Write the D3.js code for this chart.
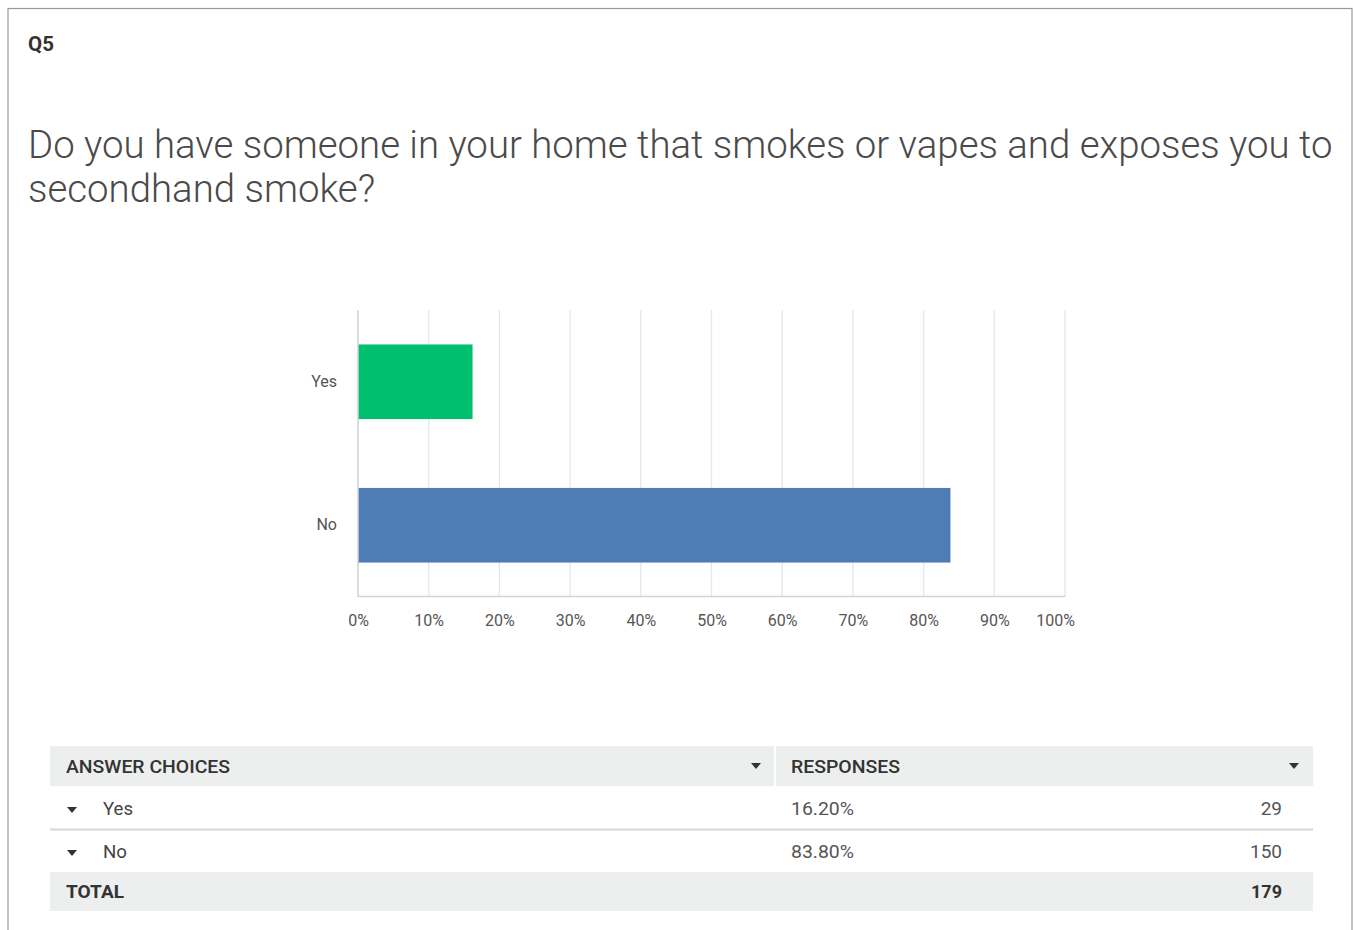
<!DOCTYPE html>
<html>
<head>
<meta charset="utf-8">
<script src="https://cdn.jsdelivr.net/npm/d3@7"></script>
<style>
  html, body { margin: 0; padding: 0; background: #fff; }
  svg { display: block; font-family: Roboto, "Open Sans", sans-serif; }
</style>
</head>
<body>
<svg id="chart" width="1353" height="930"></svg>
<script>
// Survey question data
const questionId = "Q5";
const questionLines = [
  "Do you have someone in your home that smokes or vapes and exposes you to",
  "secondhand smoke?"
];
const categories = ["Yes", "No"];
const percents = [16.20, 83.80];
const counts = [29, 150];
const totalCount = 179;
const tickValues = [0, 10, 20, 30, 40, 50, 60, 70, 80, 90, 100];
const barColors = ["#00bf6f", "#507cb6"];
const tableHeaders = ["ANSWER CHOICES", "RESPONSES"];

const svg = d3.select("#chart");

// Card border
svg.append("rect")
  .attr("x", 8).attr("y", 8.5).attr("width", 1344).attr("height", 940)
  .attr("fill", "none").attr("stroke", "#9a9a9a").attr("stroke-width", 1.2);

// Question number
svg.append("text")
  .attr("x", 28).attr("y", 51)
  .attr("font-size", 20.5).attr("font-weight", 700).attr("fill", "#333")
  .text(questionId);

// Question title, sized so the first line spans the card
const title = svg.append("g");
const lineEls = questionLines.map((t, i) =>
  title.append("text")
    .attr("x", 28).attr("y", 158 + i * 44)
    .attr("font-size", 36).attr("font-weight", 300).attr("fill", "#4a4a4a")
    .text(t));
const w0 = lineEls[0].node().getComputedTextLength();
const fs = 36 * 1305 / w0;
lineEls.forEach(e => e.attr("font-size", fs));

// Bar chart
const x = d3.scaleLinear().domain([0, 100]).range([358, 1065]);
const y = d3.scaleBand().domain(categories).range([310, 597]).paddingInner(0.48).paddingOuter(0.24);

const chart = svg.append("g");

// Vertical gridlines
chart.selectAll("line.grid")
  .data(tickValues.slice(1))
  .join("line")
  .attr("class", "grid")
  .attr("x1", d => x(d)).attr("x2", d => x(d))
  .attr("y1", 310).attr("y2", 597)
  .attr("stroke", "#e6e7e8").attr("stroke-width", 1.3);

// Bars
chart.selectAll("rect.bar")
  .data(categories)
  .join("rect")
  .attr("class", "bar")
  .attr("x", x(0))
  .attr("y", d => y(d))
  .attr("width", (d, i) => x(percents[i]) - x(0))
  .attr("height", y.bandwidth())
  .attr("fill", (d, i) => barColors[i]);

// Axes lines
chart.append("line")
  .attr("x1", x(0)).attr("x2", x(0)).attr("y1", 310).attr("y2", 597)
  .attr("stroke", "#d0d2d3").attr("stroke-width", 1.5);
chart.append("line")
  .attr("x1", x(0)).attr("x2", x(100)).attr("y1", 596.5).attr("y2", 596.5)
  .attr("stroke", "#d0d2d3").attr("stroke-width", 1.5);

// Category labels
const yAxis = d3.axisLeft(y).tickSize(0).tickPadding(21);
const ya = chart.append("g").attr("transform", `translate(${x(0)},0)`).call(yAxis);
ya.select(".domain").remove();
ya.selectAll("text").attr("font-size", 16).attr("fill", "#555").attr("font-family", "Roboto, sans-serif");

// Percentage tick labels
const xAxis = d3.axisBottom(x).tickValues(tickValues).tickFormat(d => d + "%").tickSize(0).tickPadding(18);
const xa = chart.append("g").attr("transform", "translate(0,597)").call(xAxis);
xa.select(".domain").remove();
xa.selectAll("text")
  .attr("font-size", 16).attr("fill", "#555").attr("font-family", "Roboto, sans-serif")
  .attr("dx", d => d === 100 ? -10 : 0);

// Response table
const tX0 = 50, tX1 = 1313, colSplit = 775;
const tbl = svg.append("g").attr("font-family", "Roboto, sans-serif");

function caret(g, cx, cy, color) {
  g.append("path")
    .attr("d", `M${cx - 5},${cy - 3}L${cx + 5},${cy - 3}L${cx},${cy + 3}Z`)
    .attr("fill", color);
}

// Header row
tbl.append("rect").attr("x", tX0).attr("y", 746).attr("width", colSplit - tX0 - 1).attr("height", 40).attr("fill", "#edeeee");
tbl.append("rect").attr("x", colSplit + 1).attr("y", 746).attr("width", tX1 - colSplit - 1).attr("height", 40).attr("fill", "#edeeee");
tbl.append("text").attr("x", 66).attr("y", 773).attr("font-size", 18).attr("font-weight", 500)
  .attr("fill", "#333").attr("textLength", 164).attr("lengthAdjust", "spacingAndGlyphs").text(tableHeaders[0]);
tbl.append("text").attr("x", 791).attr("y", 773).attr("font-size", 18).attr("font-weight", 500)
  .attr("fill", "#333").attr("textLength", 109).attr("lengthAdjust", "spacingAndGlyphs").text(tableHeaders[1]);
caret(tbl, 756, 766, "#333");
caret(tbl, 1294, 766, "#333");

// Answer rows
const rowY = [808, 851];
categories.forEach((c, i) => {
  const cy = rowY[i];
  caret(tbl, 72, cy + 2, "#333");
  tbl.append("text").attr("x", 103).attr("y", cy + 7).attr("font-size", 19).attr("fill", "#444")
    .attr("textLength", i === 0 ? 30 : 24).attr("lengthAdjust", "spacingAndGlyphs").text(c);
  tbl.append("text").attr("x", 791).attr("y", cy + 7).attr("font-size", 19).attr("fill", "#555")
    .attr("textLength", 63).attr("lengthAdjust", "spacingAndGlyphs")
    .text(percents[i].toFixed(2) + "%");
  tbl.append("text").attr("x", 1282).attr("y", cy + 7).attr("font-size", 19).attr("fill", "#555")
    .attr("text-anchor", "end").text(counts[i]);
});
tbl.append("line").attr("x1", tX0).attr("x2", tX1).attr("y1", 829.5).attr("y2", 829.5)
  .attr("stroke", "#d5d6d6").attr("stroke-width", 2);

// Total row
tbl.append("rect").attr("x", tX0).attr("y", 872).attr("width", tX1 - tX0).attr("height", 39).attr("fill", "#edeeee");
tbl.append("text").attr("x", 66).attr("y", 898).attr("font-size", 18).attr("font-weight", 700)
  .attr("fill", "#333").attr("textLength", 58).attr("lengthAdjust", "spacingAndGlyphs").text("TOTAL");
tbl.append("text").attr("x", 1282).attr("y", 898).attr("font-size", 18).attr("font-weight", 700)
  .attr("fill", "#333").attr("text-anchor", "end").text(totalCount);
</script>
</body>
</html>
